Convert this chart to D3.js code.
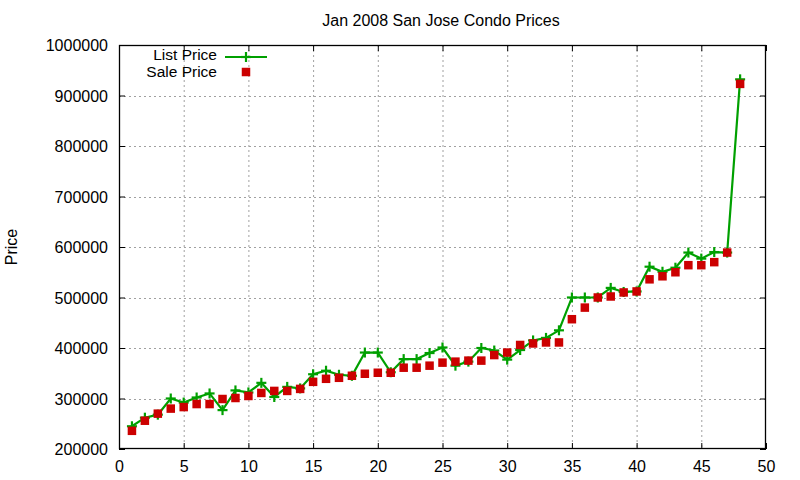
<!DOCTYPE html>
<html>
<head>
<meta charset="utf-8">
<script src="https://cdn.jsdelivr.net/npm/d3@7"></script>
<style>
html,body{margin:0;padding:0;background:#fff;}
text{font-family:"Liberation Sans",Arial,sans-serif;fill:#000;}
</style>
</head>
<body>
<svg id="chart" width="800" height="480"></svg>
<script>
const titleText = "Jan 2008 San Jose Condo Prices";
const yLabel = "Price";
const seriesNames = ["List Price", "Sale Price"];
const listPrice = [245000,262000,268000,300000,292000,302000,310000,277000,316000,312000,
  331000,303000,323000,320000,348000,355000,347000,345000,391000,391000,
  352000,378000,378000,390000,401000,365000,373000,400000,395000,377000,
  396000,415000,420000,435000,500000,500000,500000,519000,511000,512000,
  561000,551000,559000,589000,577000,590000,589000,932000];
const salePrice = [236000,256000,270000,280000,283000,289000,289000,299000,301000,305000,
  311000,315000,315000,319000,333000,339000,341000,345000,349000,351000,
  351000,361000,361000,365000,371000,373000,375000,375000,386000,391000,
  406000,409000,411000,411000,457000,480000,500000,502000,510000,512000,
  536000,542000,550000,564000,564000,570000,589000,923000];
const xTicks = [0,5,10,15,20,25,30,35,40,45,50];
const yTicks = [200000,300000,400000,500000,600000,700000,800000,900000,1000000];

const L = 119, R = 766, T = 45, B = 449;
const green = "#00a000", red = "#cc0000";
const FS = "16px";
const svg = d3.select("#chart");
const x = d3.scaleLinear().domain([0,50]).range([L,R]);
const y = d3.scaleLinear().domain([200000,1000000]).range([B,T]);

// grid
const grid = svg.append("g").attr("stroke","#a0a0a0").attr("stroke-width",1).attr("stroke-dasharray","2,3");
xTicks.slice(1,-1).forEach(t=>grid.append("line").attr("x1",x(t)+0.5).attr("x2",x(t)+0.5).attr("y1",T).attr("y2",B));
yTicks.slice(1,-1).forEach(t=>grid.append("line").attr("x1",L).attr("x2",R).attr("y1",Math.round(y(t))+0.5).attr("y2",Math.round(y(t))+0.5));

// axes (inward ticks, mirrored)
const tl = 6;
const fmt = d3.format("d");
const ax = svg.append("g").attr("transform",`translate(0,${B})`)
  .call(d3.axisBottom(x).tickValues(xTicks).tickSizeInner(-tl).tickSizeOuter(0).tickPadding(9).tickFormat(fmt));
const axT = svg.append("g").attr("transform",`translate(0,${T})`)
  .call(d3.axisTop(x).tickValues(xTicks).tickSizeInner(-tl).tickSizeOuter(0).tickFormat(""));
const ay = svg.append("g").attr("transform",`translate(${L},0)`)
  .call(d3.axisLeft(y).tickValues(yTicks).tickSizeInner(-tl).tickSizeOuter(0).tickPadding(11).tickFormat(fmt));
const ayR = svg.append("g").attr("transform",`translate(${R},0)`)
  .call(d3.axisRight(y).tickValues(yTicks).tickSizeInner(-tl).tickSizeOuter(0).tickFormat(""));
[ax,axT,ay,ayR].forEach(g=>{
  g.select(".domain").remove();
  g.selectAll(".tick line").attr("stroke","#000");
  g.selectAll("text").attr("font-size",FS).attr("font-family","Liberation Sans, Arial, sans-serif").attr("fill","#000");
});
ay.selectAll("text").attr("dy","0.36em");
ax.selectAll("text").attr("dy","0.9em");

// border
svg.append("rect").attr("x",L+0.5).attr("y",T+0.5).attr("width",R-L-1).attr("height",B-T-1)
  .attr("fill","none").attr("stroke","#000").attr("stroke-width",1.3);

// List price line
const idx = d3.range(1, listPrice.length+1);
svg.append("path").datum(listPrice)
  .attr("fill","none").attr("stroke",green).attr("stroke-width",2.2)
  .attr("d", d3.line().x((d,i)=>x(idx[i])).y(d=>y(d)));
const plus = (g,cx,cy)=>{
  g.append("line").attr("x1",cx-5).attr("x2",cx+5).attr("y1",cy).attr("y2",cy);
  g.append("line").attr("x1",cx).attr("x2",cx).attr("y1",cy-5).attr("y2",cy+5);
};
const pg = svg.append("g").attr("stroke",green).attr("stroke-width",2.2);
listPrice.forEach((d,i)=>plus(pg,x(idx[i]),y(d)));

// Sale price squares
const s = 8.5;
svg.append("g").selectAll("rect").data(salePrice).join("rect")
  .attr("x",(d,i)=>x(idx[i])-s/2).attr("y",d=>y(d)-s/2)
  .attr("width",s).attr("height",s).attr("fill",red);

// Title
svg.append("text").attr("x",441).attr("y",26).attr("text-anchor","middle")
  .attr("font-size",FS).text(titleText);
// Y label
svg.append("text").attr("transform","translate(17,247) rotate(-90)").attr("text-anchor","middle")
  .attr("font-size",FS).text(yLabel);

// Legend
const lg = svg.append("g");
lg.append("text").attr("x",217).attr("y",60).attr("text-anchor","end").attr("font-size","15.5px").text(seriesNames[0]);
lg.append("text").attr("x",217).attr("y",77).attr("text-anchor","end").attr("font-size","15.5px").text(seriesNames[1]);
lg.append("line").attr("x1",225).attr("x2",267).attr("y1",57).attr("y2",57).attr("stroke",green).attr("stroke-width",2.2);
const lp = lg.append("g").attr("stroke",green).attr("stroke-width",2.2);
plus(lp,246,57);
lg.append("rect").attr("x",246-s/2).attr("y",72-s/2).attr("width",s).attr("height",s).attr("fill",red);
</script>
</body>
</html>
